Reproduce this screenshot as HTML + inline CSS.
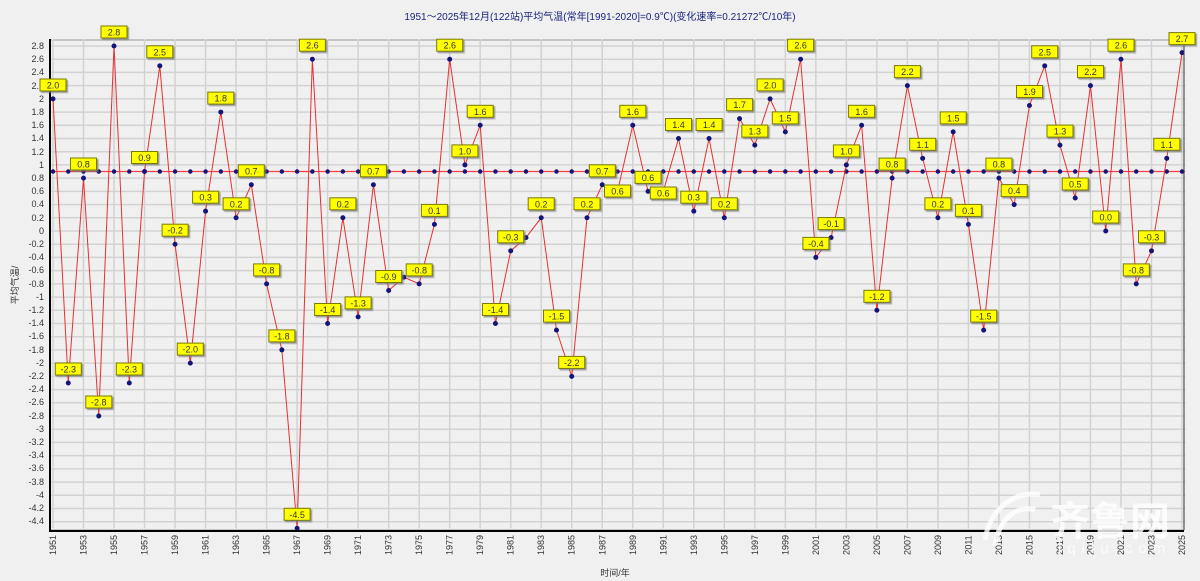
<!DOCTYPE html>
<html><head><meta charset="utf-8"><style>
body{margin:0;background:#f0f0f0;}
svg{display:block;font-family:"Liberation Sans","Noto Sans CJK SC",sans-serif;}
.yl{font-size:9px;fill:#333;text-anchor:end}
.xl{font-size:9px;fill:#333;text-anchor:middle}
.lb rect{fill:#ffff00;stroke:#7a7a00;stroke-width:1}
.lb text{font-size:9px;fill:#333;text-anchor:middle}
</style></head><body>
<svg width="1200" height="581" viewBox="0 0 1200 581" xmlns="http://www.w3.org/2000/svg">
<defs><filter id="sh" x="-20%" y="-20%" width="150%" height="160%"><feDropShadow dx="1.5" dy="1.5" stdDeviation="0.6" flood-color="#777" flood-opacity="0.7"/></filter></defs>
<rect x="0" y="0" width="1200" height="581" fill="#f0f0f0"/>
<text x="600" y="20" font-size="10" fill="#1a237e" text-anchor="middle">1951～2025年12月(122站)平均气温(常年[1991-2020]=0.9℃)(变化速率=0.21272℃/10年)</text>
<rect x="50" y="40" width="1134" height="490" fill="#f0f0f0" stroke="#999" stroke-width="1"/>
<!-- grid -->
<g transform="translate(53,231) scale(15.257,-66.07)" fill="none">
<path vector-effect="non-scaling-stroke" stroke="#d2d2d2" stroke-width="1.5" d="M-0.2,2.8H74.2M-0.2,2.6H74.2M-0.2,2.4H74.2M-0.2,2.2H74.2M-0.2,2H74.2M-0.2,1.8H74.2M-0.2,1.6H74.2M-0.2,1.4H74.2M-0.2,1.2H74.2M-0.2,1H74.2M-0.2,0.8H74.2M-0.2,0.6H74.2M-0.2,0.4H74.2M-0.2,0.2H74.2M-0.2,0H74.2M-0.2,-0.2H74.2M-0.2,-0.4H74.2M-0.2,-0.6H74.2M-0.2,-0.8H74.2M-0.2,-1H74.2M-0.2,-1.2H74.2M-0.2,-1.4H74.2M-0.2,-1.6H74.2M-0.2,-1.8H74.2M-0.2,-2H74.2M-0.2,-2.2H74.2M-0.2,-2.4H74.2M-0.2,-2.6H74.2M-0.2,-2.8H74.2M-0.2,-3H74.2M-0.2,-3.2H74.2M-0.2,-3.4H74.2M-0.2,-3.6H74.2M-0.2,-3.8H74.2M-0.2,-4H74.2M-0.2,-4.2H74.2M-0.2,-4.4H74.2
M0,2.9V-4.5M2,2.9V-4.5M4,2.9V-4.5M6,2.9V-4.5M8,2.9V-4.5M10,2.9V-4.5M12,2.9V-4.5M14,2.9V-4.5M16,2.9V-4.5M18,2.9V-4.5M20,2.9V-4.5M22,2.9V-4.5M24,2.9V-4.5M26,2.9V-4.5M28,2.9V-4.5M30,2.9V-4.5M32,2.9V-4.5M34,2.9V-4.5M36,2.9V-4.5M38,2.9V-4.5M40,2.9V-4.5M42,2.9V-4.5M44,2.9V-4.5M46,2.9V-4.5M48,2.9V-4.5M50,2.9V-4.5M52,2.9V-4.5M54,2.9V-4.5M56,2.9V-4.5M58,2.9V-4.5M60,2.9V-4.5M62,2.9V-4.5M64,2.9V-4.5M66,2.9V-4.5M68,2.9V-4.5M70,2.9V-4.5M72,2.9V-4.5M74,2.9V-4.5"/>
<!-- normal line -->
<path vector-effect="non-scaling-stroke" stroke="#ff4040" stroke-width="1.2" d="M-0.2,0.9H74.2"/>
<path vector-effect="non-scaling-stroke" stroke="#14147a" stroke-width="4.5" stroke-linecap="round" d="M0,0.9h0M1,0.9h0M2,0.9h0M3,0.9h0M4,0.9h0M5,0.9h0M6,0.9h0M7,0.9h0M8,0.9h0M9,0.9h0M10,0.9h0M11,0.9h0M12,0.9h0M13,0.9h0M14,0.9h0M15,0.9h0M16,0.9h0M17,0.9h0M18,0.9h0M19,0.9h0M20,0.9h0M21,0.9h0M22,0.9h0M23,0.9h0M24,0.9h0M25,0.9h0M26,0.9h0M27,0.9h0M28,0.9h0M29,0.9h0M30,0.9h0M31,0.9h0M32,0.9h0M33,0.9h0M34,0.9h0M35,0.9h0M36,0.9h0M37,0.9h0M38,0.9h0M39,0.9h0M40,0.9h0M41,0.9h0M42,0.9h0M43,0.9h0M44,0.9h0M45,0.9h0M46,0.9h0M47,0.9h0M48,0.9h0M49,0.9h0M50,0.9h0M51,0.9h0M52,0.9h0M53,0.9h0M54,0.9h0M55,0.9h0M56,0.9h0M57,0.9h0M58,0.9h0M59,0.9h0M60,0.9h0M61,0.9h0M62,0.9h0M63,0.9h0M64,0.9h0M65,0.9h0M66,0.9h0M67,0.9h0M68,0.9h0M69,0.9h0M70,0.9h0M71,0.9h0M72,0.9h0M73,0.9h0M74,0.9h0"/>
<!-- data -->
<path id="dl" vector-effect="non-scaling-stroke" stroke="#e83030" stroke-width="1" d="M0,2L1,-2.3L2,0.8L3,-2.8L4,2.8L5,-2.3L6,0.9L7,2.5L8,-0.2L9,-2L10,0.3L11,1.8L12,0.2L13,0.7L14,-0.8L15,-1.8L16,-4.5L17,2.6L18,-1.4L19,0.2L20,-1.3L21,0.7L22,-0.9L23,-0.7L24,-0.8L25,0.1L26,2.6L27,1L28,1.6L29,-1.4L30,-0.3L31,-0.1L32,0.2L33,-1.5L34,-2.2L35,0.2L36,0.7L37,0.6L38,1.6L39,0.6L40,0.6L41,1.4L42,0.3L43,1.4L44,0.2L45,1.7L46,1.3L47,2L48,1.5L49,2.6L50,-0.4L51,-0.1L52,1L53,1.6L54,-1.2L55,0.8L56,2.2L57,1.1L58,0.2L59,1.5L60,0.1L61,-1.5L62,0.8L63,0.4L64,1.9L65,2.5L66,1.3L67,0.5L68,2.2L69,0L70,2.6L71,-0.8L72,-0.3L73,1.1L74,2.7"/>
<path vector-effect="non-scaling-stroke" stroke="#14147a" stroke-width="5" stroke-linecap="round" d="M0,2h0M1,-2.3h0M2,0.8h0M3,-2.8h0M4,2.8h0M5,-2.3h0M6,0.9h0M7,2.5h0M8,-0.2h0M9,-2h0M10,0.3h0M11,1.8h0M12,0.2h0M13,0.7h0M14,-0.8h0M15,-1.8h0M16,-4.5h0M17,2.6h0M18,-1.4h0M19,0.2h0M20,-1.3h0M21,0.7h0M22,-0.9h0M23,-0.7h0M24,-0.8h0M25,0.1h0M26,2.6h0M27,1h0M28,1.6h0M29,-1.4h0M30,-0.3h0M31,-0.1h0M32,0.2h0M33,-1.5h0M34,-2.2h0M35,0.2h0M36,0.7h0M37,0.6h0M38,1.6h0M39,0.6h0M40,0.6h0M41,1.4h0M42,0.3h0M43,1.4h0M44,0.2h0M45,1.7h0M46,1.3h0M47,2h0M48,1.5h0M49,2.6h0M50,-0.4h0M51,-0.1h0M52,1h0M53,1.6h0M54,-1.2h0M55,0.8h0M56,2.2h0M57,1.1h0M58,0.2h0M59,1.5h0M60,0.1h0M61,-1.5h0M62,0.8h0M63,0.4h0M64,1.9h0M65,2.5h0M66,1.3h0M67,0.5h0M68,2.2h0M69,0h0M70,2.6h0M71,-0.8h0M72,-0.3h0M73,1.1h0M74,2.7h0"/>
</g>
<!-- axes -->
<path d="M50,39V531H1184" stroke="#000" stroke-width="2" fill="none"/>
<path d="M1184,40V530" stroke="#333" stroke-width="1"/>
<!-- y labels -->
<g class="yl">
<text x="44" y="49">2.8</text><text x="44" y="62">2.6</text><text x="44" y="75">2.4</text><text x="44" y="89">2.2</text><text x="44" y="102">2</text><text x="44" y="115">1.8</text><text x="44" y="128">1.6</text><text x="44" y="141">1.4</text><text x="44" y="155">1.2</text><text x="44" y="168">1</text><text x="44" y="181">0.8</text><text x="44" y="194">0.6</text><text x="44" y="207">0.4</text><text x="44" y="221">0.2</text><text x="44" y="234">0</text><text x="44" y="247">-0.2</text><text x="44" y="260">-0.4</text><text x="44" y="273">-0.6</text><text x="44" y="287">-0.8</text><text x="44" y="300">-1</text><text x="44" y="313">-1.2</text><text x="44" y="326">-1.4</text><text x="44" y="339">-1.6</text><text x="44" y="353">-1.8</text><text x="44" y="366">-2</text><text x="44" y="379">-2.2</text><text x="44" y="392">-2.4</text><text x="44" y="405">-2.6</text><text x="44" y="419">-2.8</text><text x="44" y="432">-3</text><text x="44" y="445">-3.2</text><text x="44" y="458">-3.4</text><text x="44" y="471">-3.6</text><text x="44" y="485">-3.8</text><text x="44" y="498">-4</text><text x="44" y="511">-4.2</text><text x="44" y="524">-4.4</text>
</g>
<text transform="translate(18,285) rotate(-90)" font-size="9" fill="#333" text-anchor="middle">平均气温/</text>
<!-- x labels -->
<g class="xl">
<text transform="translate(56,545) rotate(-90)">1951</text><text transform="translate(86.5,545) rotate(-90)">1953</text><text transform="translate(117,545) rotate(-90)">1955</text><text transform="translate(147.5,545) rotate(-90)">1957</text><text transform="translate(178,545) rotate(-90)">1959</text><text transform="translate(208.6,545) rotate(-90)">1961</text><text transform="translate(239.1,545) rotate(-90)">1963</text><text transform="translate(269.6,545) rotate(-90)">1965</text><text transform="translate(300.1,545) rotate(-90)">1967</text><text transform="translate(330.6,545) rotate(-90)">1969</text><text transform="translate(361.1,545) rotate(-90)">1971</text><text transform="translate(391.7,545) rotate(-90)">1973</text><text transform="translate(422.2,545) rotate(-90)">1975</text><text transform="translate(452.7,545) rotate(-90)">1977</text><text transform="translate(483.2,545) rotate(-90)">1979</text><text transform="translate(513.7,545) rotate(-90)">1981</text><text transform="translate(544.2,545) rotate(-90)">1983</text><text transform="translate(574.7,545) rotate(-90)">1985</text><text transform="translate(605.3,545) rotate(-90)">1987</text><text transform="translate(635.8,545) rotate(-90)">1989</text><text transform="translate(666.3,545) rotate(-90)">1991</text><text transform="translate(696.8,545) rotate(-90)">1993</text><text transform="translate(727.3,545) rotate(-90)">1995</text><text transform="translate(757.8,545) rotate(-90)">1997</text><text transform="translate(788.3,545) rotate(-90)">1999</text><text transform="translate(818.9,545) rotate(-90)">2001</text><text transform="translate(849.4,545) rotate(-90)">2003</text><text transform="translate(879.9,545) rotate(-90)">2005</text><text transform="translate(910.4,545) rotate(-90)">2007</text><text transform="translate(940.9,545) rotate(-90)">2009</text><text transform="translate(971.4,545) rotate(-90)">2011</text><text transform="translate(1001.9,545) rotate(-90)">2013</text><text transform="translate(1032.5,545) rotate(-90)">2015</text><text transform="translate(1063,545) rotate(-90)">2017</text><text transform="translate(1093.5,545) rotate(-90)">2019</text><text transform="translate(1124,545) rotate(-90)">2021</text><text transform="translate(1154.5,545) rotate(-90)">2023</text><text transform="translate(1185,545) rotate(-90)">2025</text>
</g>
<text x="615" y="576" font-size="9" fill="#333" text-anchor="middle">时间/年</text>
<!-- value labels -->
<g class="lb">
<g transform="translate(53,99)"><rect x="-13" y="-20" width="26" height="12" filter="url(#sh)"/><text y="-10.5">2.0</text></g>
<g transform="translate(68.3,383)"><rect x="-13" y="-20" width="26" height="12" filter="url(#sh)"/><text y="-10.5">-2.3</text></g>
<g transform="translate(83.5,178)"><rect x="-13" y="-20" width="26" height="12" filter="url(#sh)"/><text y="-10.5">0.8</text></g>
<g transform="translate(98.8,416)"><rect x="-13" y="-20" width="26" height="12" filter="url(#sh)"/><text y="-10.5">-2.8</text></g>
<g transform="translate(114,46)"><rect x="-13" y="-20" width="26" height="12" filter="url(#sh)"/><text y="-10.5">2.8</text></g>
<g transform="translate(129.3,383)"><rect x="-13" y="-20" width="26" height="12" filter="url(#sh)"/><text y="-10.5">-2.3</text></g>
<g transform="translate(144.5,171.5)"><rect x="-13" y="-20" width="26" height="12" filter="url(#sh)"/><text y="-10.5">0.9</text></g>
<g transform="translate(159.8,65.8)"><rect x="-13" y="-20" width="26" height="12" filter="url(#sh)"/><text y="-10.5">2.5</text></g>
<g transform="translate(175.1,244.2)"><rect x="-13" y="-20" width="26" height="12" filter="url(#sh)"/><text y="-10.5">-0.2</text></g>
<g transform="translate(190.3,363.1)"><rect x="-13" y="-20" width="26" height="12" filter="url(#sh)"/><text y="-10.5">-2.0</text></g>
<g transform="translate(205.6,211.2)"><rect x="-13" y="-20" width="26" height="12" filter="url(#sh)"/><text y="-10.5">0.3</text></g>
<g transform="translate(220.8,112.1)"><rect x="-13" y="-20" width="26" height="12" filter="url(#sh)"/><text y="-10.5">1.8</text></g>
<g transform="translate(236.1,217.8)"><rect x="-13" y="-20" width="26" height="12" filter="url(#sh)"/><text y="-10.5">0.2</text></g>
<g transform="translate(251.3,184.8)"><rect x="-13" y="-20" width="26" height="12" filter="url(#sh)"/><text y="-10.5">0.7</text></g>
<g transform="translate(266.6,283.9)"><rect x="-13" y="-20" width="26" height="12" filter="url(#sh)"/><text y="-10.5">-0.8</text></g>
<g transform="translate(281.9,349.9)"><rect x="-13" y="-20" width="26" height="12" filter="url(#sh)"/><text y="-10.5">-1.8</text></g>
<g transform="translate(297.1,528.3)"><rect x="-13" y="-20" width="26" height="12" filter="url(#sh)"/><text y="-10.5">-4.5</text></g>
<g transform="translate(312.4,59.2)"><rect x="-13" y="-20" width="26" height="12" filter="url(#sh)"/><text y="-10.5">2.6</text></g>
<g transform="translate(327.6,323.5)"><rect x="-13" y="-20" width="26" height="12" filter="url(#sh)"/><text y="-10.5">-1.4</text></g>
<g transform="translate(342.9,217.8)"><rect x="-13" y="-20" width="26" height="12" filter="url(#sh)"/><text y="-10.5">0.2</text></g>
<g transform="translate(358.1,316.9)"><rect x="-13" y="-20" width="26" height="12" filter="url(#sh)"/><text y="-10.5">-1.3</text></g>
<g transform="translate(373.4,184.8)"><rect x="-13" y="-20" width="26" height="12" filter="url(#sh)"/><text y="-10.5">0.7</text></g>
<g transform="translate(388.7,290.5)"><rect x="-13" y="-20" width="26" height="12" filter="url(#sh)"/><text y="-10.5">-0.9</text></g>
<g transform="translate(419.2,283.9)"><rect x="-13" y="-20" width="26" height="12" filter="url(#sh)"/><text y="-10.5">-0.8</text></g>
<g transform="translate(434.4,224.4)"><rect x="-13" y="-20" width="26" height="12" filter="url(#sh)"/><text y="-10.5">0.1</text></g>
<g transform="translate(449.7,59.2)"><rect x="-13" y="-20" width="26" height="12" filter="url(#sh)"/><text y="-10.5">2.6</text></g>
<g transform="translate(464.9,164.9)"><rect x="-13" y="-20" width="26" height="12" filter="url(#sh)"/><text y="-10.5">1.0</text></g>
<g transform="translate(480.2,125.3)"><rect x="-13" y="-20" width="26" height="12" filter="url(#sh)"/><text y="-10.5">1.6</text></g>
<g transform="translate(495.5,323.5)"><rect x="-13" y="-20" width="26" height="12" filter="url(#sh)"/><text y="-10.5">-1.4</text></g>
<g transform="translate(510.7,250.8)"><rect x="-13" y="-20" width="26" height="12" filter="url(#sh)"/><text y="-10.5">-0.3</text></g>
<g transform="translate(541.2,217.8)"><rect x="-13" y="-20" width="26" height="12" filter="url(#sh)"/><text y="-10.5">0.2</text></g>
<g transform="translate(556.5,330.1)"><rect x="-13" y="-20" width="26" height="12" filter="url(#sh)"/><text y="-10.5">-1.5</text></g>
<g transform="translate(571.7,376.4)"><rect x="-13" y="-20" width="26" height="12" filter="url(#sh)"/><text y="-10.5">-2.2</text></g>
<g transform="translate(587,217.8)"><rect x="-13" y="-20" width="26" height="12" filter="url(#sh)"/><text y="-10.5">0.2</text></g>
<g transform="translate(602.3,184.8)"><rect x="-13" y="-20" width="26" height="12" filter="url(#sh)"/><text y="-10.5">0.7</text></g>
<g transform="translate(617.5,205)"><rect x="-13" y="-20" width="26" height="12" filter="url(#sh)"/><text y="-10.5">0.6</text></g>
<g transform="translate(632.8,125.3)"><rect x="-13" y="-20" width="26" height="12" filter="url(#sh)"/><text y="-10.5">1.6</text></g>
<g transform="translate(648,191.4)"><rect x="-13" y="-20" width="26" height="12" filter="url(#sh)"/><text y="-10.5">0.6</text></g>
<g transform="translate(663.3,207)"><rect x="-13" y="-20" width="26" height="12" filter="url(#sh)"/><text y="-10.5">0.6</text></g>
<g transform="translate(678.5,138.5)"><rect x="-13" y="-20" width="26" height="12" filter="url(#sh)"/><text y="-10.5">1.4</text></g>
<g transform="translate(693.8,211.2)"><rect x="-13" y="-20" width="26" height="12" filter="url(#sh)"/><text y="-10.5">0.3</text></g>
<g transform="translate(709.1,138.5)"><rect x="-13" y="-20" width="26" height="12" filter="url(#sh)"/><text y="-10.5">1.4</text></g>
<g transform="translate(724.3,217.8)"><rect x="-13" y="-20" width="26" height="12" filter="url(#sh)"/><text y="-10.5">0.2</text></g>
<g transform="translate(739.6,118.7)"><rect x="-13" y="-20" width="26" height="12" filter="url(#sh)"/><text y="-10.5">1.7</text></g>
<g transform="translate(754.8,145.1)"><rect x="-13" y="-20" width="26" height="12" filter="url(#sh)"/><text y="-10.5">1.3</text></g>
<g transform="translate(770.1,98.9)"><rect x="-13" y="-20" width="26" height="12" filter="url(#sh)"/><text y="-10.5">2.0</text></g>
<g transform="translate(785.3,131.9)"><rect x="-13" y="-20" width="26" height="12" filter="url(#sh)"/><text y="-10.5">1.5</text></g>
<g transform="translate(800.6,59.2)"><rect x="-13" y="-20" width="26" height="12" filter="url(#sh)"/><text y="-10.5">2.6</text></g>
<g transform="translate(815.9,257.4)"><rect x="-13" y="-20" width="26" height="12" filter="url(#sh)"/><text y="-10.5">-0.4</text></g>
<g transform="translate(831.1,237.6)"><rect x="-13" y="-20" width="26" height="12" filter="url(#sh)"/><text y="-10.5">-0.1</text></g>
<g transform="translate(846.4,164.9)"><rect x="-13" y="-20" width="26" height="12" filter="url(#sh)"/><text y="-10.5">1.0</text></g>
<g transform="translate(861.6,125.3)"><rect x="-13" y="-20" width="26" height="12" filter="url(#sh)"/><text y="-10.5">1.6</text></g>
<g transform="translate(876.9,310.3)"><rect x="-13" y="-20" width="26" height="12" filter="url(#sh)"/><text y="-10.5">-1.2</text></g>
<g transform="translate(892.1,178.1)"><rect x="-13" y="-20" width="26" height="12" filter="url(#sh)"/><text y="-10.5">0.8</text></g>
<g transform="translate(907.4,85.6)"><rect x="-13" y="-20" width="26" height="12" filter="url(#sh)"/><text y="-10.5">2.2</text></g>
<g transform="translate(922.7,158.3)"><rect x="-13" y="-20" width="26" height="12" filter="url(#sh)"/><text y="-10.5">1.1</text></g>
<g transform="translate(937.9,217.8)"><rect x="-13" y="-20" width="26" height="12" filter="url(#sh)"/><text y="-10.5">0.2</text></g>
<g transform="translate(953.2,131.9)"><rect x="-13" y="-20" width="26" height="12" filter="url(#sh)"/><text y="-10.5">1.5</text></g>
<g transform="translate(968.4,224.4)"><rect x="-13" y="-20" width="26" height="12" filter="url(#sh)"/><text y="-10.5">0.1</text></g>
<g transform="translate(983.7,330.1)"><rect x="-13" y="-20" width="26" height="12" filter="url(#sh)"/><text y="-10.5">-1.5</text></g>
<g transform="translate(998.9,178.1)"><rect x="-13" y="-20" width="26" height="12" filter="url(#sh)"/><text y="-10.5">0.8</text></g>
<g transform="translate(1014.2,204.6)"><rect x="-13" y="-20" width="26" height="12" filter="url(#sh)"/><text y="-10.5">0.4</text></g>
<g transform="translate(1029.5,105.5)"><rect x="-13" y="-20" width="26" height="12" filter="url(#sh)"/><text y="-10.5">1.9</text></g>
<g transform="translate(1044.7,65.8)"><rect x="-13" y="-20" width="26" height="12" filter="url(#sh)"/><text y="-10.5">2.5</text></g>
<g transform="translate(1060,145.1)"><rect x="-13" y="-20" width="26" height="12" filter="url(#sh)"/><text y="-10.5">1.3</text></g>
<g transform="translate(1075.2,198)"><rect x="-13" y="-20" width="26" height="12" filter="url(#sh)"/><text y="-10.5">0.5</text></g>
<g transform="translate(1090.5,85.6)"><rect x="-13" y="-20" width="26" height="12" filter="url(#sh)"/><text y="-10.5">2.2</text></g>
<g transform="translate(1105.7,231)"><rect x="-13" y="-20" width="26" height="12" filter="url(#sh)"/><text y="-10.5">0.0</text></g>
<g transform="translate(1121,59.2)"><rect x="-13" y="-20" width="26" height="12" filter="url(#sh)"/><text y="-10.5">2.6</text></g>
<g transform="translate(1136.3,283.9)"><rect x="-13" y="-20" width="26" height="12" filter="url(#sh)"/><text y="-10.5">-0.8</text></g>
<g transform="translate(1151.5,250.8)"><rect x="-13" y="-20" width="26" height="12" filter="url(#sh)"/><text y="-10.5">-0.3</text></g>
<g transform="translate(1166.8,158.3)"><rect x="-13" y="-20" width="26" height="12" filter="url(#sh)"/><text y="-10.5">1.1</text></g>
<g transform="translate(1182,52.6)"><rect x="-13" y="-20" width="26" height="12" filter="url(#sh)"/><text y="-10.5">2.7</text></g>
</g>
<!-- watermark -->
<text x="1050" y="535" font-size="40" fill="#ffffff" fill-opacity="0.8" font-weight="bold" font-family="'Noto Sans CJK SC',sans-serif">齐鲁网</text>
<text x="1058" y="553" font-size="15" fill="#ffffff" fill-opacity="0.8" letter-spacing="6">iqilu.com</text>
<path d="M985,540 C990,505 1020,490 1040,495 M995,545 C1000,515 1020,505 1035,510" stroke="#fff" stroke-opacity="0.8" stroke-width="5" fill="none"/>
</svg>
</body></html>
